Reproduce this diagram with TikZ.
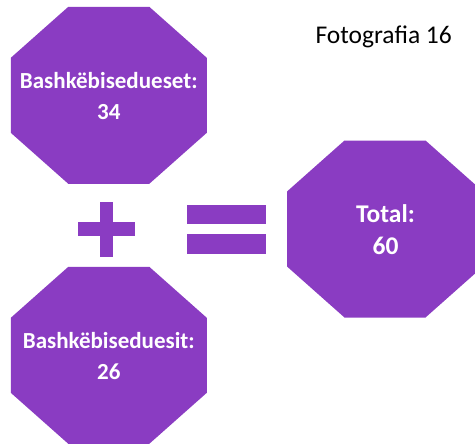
\documentclass[tikz,border=0pt]{standalone}
\usepackage{fontspec}
\setmainfont{Carlito}
\definecolor{octpurple}{RGB}{138,60,194}
\tikzset{
  octa/.pic={\fill[octpurple] (-98,-37.5) -- (-98,37.5) -- (-40.5,88.5) -- (40.5,88.5)
     -- (98,37.5) -- (98,-37.5) -- (40.5,-88.5) -- (-40.5,-88.5) -- cycle;},
  octtext/.style={text=white, align=center, font=\fontsize{23}{31}\selectfont\bfseries},
  sign/.style={fill=octpurple},
}

\begin{document}
\begin{tikzpicture}[x=1pt,y=-1pt]
  \useasboundingbox (0,0) rectangle (475,445);
  % octagons
  \pic at (108.8,95.3) {octa};
  \pic at (108.8,355.3) {octa};
  \pic at (385,229) {octa};
  \node[octtext] (femra) at (108.8,96) {Bashkëbisedueset:\\34};
  \node[octtext] (meshkuj) at (108.8,356) {Bashkëbiseduesit:\\26};
  \node[octtext, font=\fontsize{25.5}{32}\selectfont\bfseries] (total) at (385.5,230) {Total:\\60};

  % plus and equals
  \fill[sign] (100,201.7) rectangle (113,257);
  \fill[sign] (78,222) rectangle (135,236);
  \fill[sign] (187,205) rectangle (266,224.3);
  \fill[sign] (187,234) rectangle (266,254);

  \node[anchor=base west, font=\fontsize{25.5}{30}\selectfont] (titulli) at (312,43) {Fotografia 16};
\end{tikzpicture}
\end{document}
